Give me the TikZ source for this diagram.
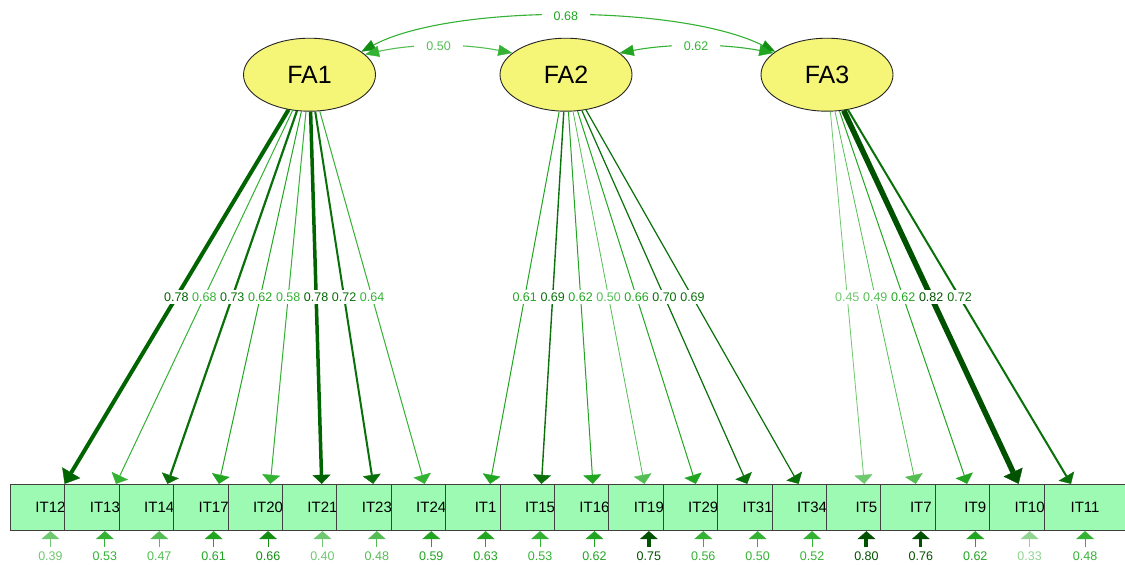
\documentclass[tikz,border=0pt]{standalone}
\usepackage{fontspec}
\setmainfont{Liberation Sans}
\usetikzlibrary{arrows.meta,shapes.geometric,calc}

% greens, from darkest to lightest
\definecolor{g0}{RGB}{0,82,0}
\definecolor{g1}{RGB}{0,100,0}
\definecolor{g2}{RGB}{10,112,10}
\definecolor{g3}{RGB}{18,142,18}
\definecolor{g4}{RGB}{34,166,34}
\definecolor{g5}{RGB}{52,178,52}
\definecolor{g6}{RGB}{84,190,84}
\definecolor{g7}{RGB}{112,200,112}
\definecolor{g8}{RGB}{146,212,146}
\definecolor{latentfill}{RGB}{245,245,120}
\definecolor{itemfill}{RGB}{156,250,178}

\tikzset{
  latent/.style={ellipse, draw=black!85, line width=0.9pt, fill=latentfill,
    minimum width=132pt, minimum height=73pt, inner sep=0pt,
    font=\fontsize{25}{28}\selectfont},
  itembox/.style={rectangle, draw=black!75, line width=0.9pt, fill=itemfill,
    minimum width=80pt, minimum height=46.4pt, inner sep=0pt, anchor=west,
    font=\fontsize{15}{17}\selectfont},
  tipthin/.style={-{Triangle[width=18pt,length=9pt,line width=0.4pt]}},
  tipthick/.style={-{Triangle[width=21pt,length=13pt,line width=0.4pt]}},
  tipres/.style={-{Triangle[width=18pt,length=8pt,line width=0.4pt]}},
  loadlab/.style={fill=white, inner xsep=0.6pt, inner ysep=2.5pt,
    font=\fontsize{12.5}{14}\selectfont},
  reslab/.style={inner xsep=1pt, inner ysep=4.5pt,
    font=\fontsize{12.5}{14}\selectfont},
  cov/.style={line width=1.1pt},
  covlab/.style={fill=white, inner xsep=12pt, inner ysep=2pt,
    font=\fontsize{12.5}{14}\selectfont},
}

% index/factor/colour/width/tip/loading
\def\loadings{0/FA1/g1/4/tipthick/0.78, 1/FA1/g5/1/tipthin/0.68,
  2/FA1/g2/2.2/tipthin/0.73, 3/FA1/g4/1/tipthin/0.62,
  4/FA1/g5/1/tipthin/0.58, 5/FA1/g1/3.5/tipthin/0.78,
  6/FA1/g2/2/tipthin/0.72, 7/FA1/g5/1/tipthin/0.64,
  8/FA2/g4/1/tipthin/0.61, 9/FA2/g2/1.4/tipthin/0.69,
  10/FA2/g4/1/tipthin/0.62, 11/FA2/g6/0.8/tipthin/0.50,
  12/FA2/g4/1/tipthin/0.66, 13/FA2/g2/1.2/tipthin/0.70,
  14/FA2/g2/1.2/tipthin/0.69, 15/FA3/g7/0.8/tipthin/0.45,
  16/FA3/g6/0.8/tipthin/0.49, 17/FA3/g4/1/tipthin/0.62,
  18/FA3/g0/5.5/tipthick/0.82, 19/FA3/g2/2/tipthin/0.72}

% index/colour/residual/width
\def\residuals{0/g7/0.39/1, 1/g5/0.53/1, 2/g6/0.47/1, 3/g4/0.61/1,
  4/g3/0.66/1, 5/g7/0.40/1, 6/g6/0.48/1, 7/g4/0.59/1, 8/g4/0.63/1,
  9/g5/0.53/1, 10/g4/0.62/1, 11/g0/0.75/3.5, 12/g5/0.56/1, 13/g5/0.50/1,
  14/g5/0.52/1, 15/g0/0.80/4, 16/g0/0.76/3, 17/g4/0.62/1, 18/g8/0.33/1,
  19/g5/0.48/1}

\begin{document}
\begin{tikzpicture}[x=1pt,y=-1pt]
  \fill[white] (0,0) rectangle (1125,565);
  \useasboundingbox (0,0) rectangle (1125,565);

  % latent factors
  \node[latent] (FA1) at (309.5,74.7) {FA1};
  \node[latent] (FA2) at (566,74.7) {FA2};
  \node[latent] (FA3) at (827,74.7) {FA3};

  % observed items, each box partly covered by the next one
  \foreach \i/\t in {0/IT12,1/IT13,2/IT14,3/IT17,4/IT20,5/IT21,6/IT23,
      7/IT24,8/IT1,9/IT15,10/IT16,11/IT19,12/IT29,13/IT31,14/IT34,
      15/IT5,16/IT7,17/IT9,18/IT10}
    \node[itembox] (b\i) at ({10+54.4*\i},507.5) {\t};
  \node[itembox, minimum width=82pt] (b19) at (1043.6,507.5) {IT11};

  % factor loadings
  \foreach \i/\f/\c/\w/\h/\v in \loadings
    \draw[\h, draw=\c, line width=\w pt] (\f) -- (b\i);
  \foreach \i/\f/\c/\w/\h/\v in \loadings
    \node[loadlab, text=\c] (l\i) at ($(\f)!0.514!(b\i)$) {\v};

  % residual variances
  \coordinate (resrow) at (0,556);
  \foreach \i/\c/\v/\w in \residuals {
    \node[reslab, text=\c] (r\i) at (b\i |- resrow) {\v};
    \draw[tipres, draw=\c, line width=\w pt] (r\i) -- (b\i);
  }

  % factor covariances
  \draw[cov, draw=g5,
    {Triangle[width=11pt,length=14pt,line width=0.4pt,color=g3]}-{Triangle[width=11pt,length=14pt,line width=0.4pt,color=g3]}]
    (FA1.24) .. controls (450,4) and (680,4) .. (FA3.156)
    node[covlab, text=g4, pos=0.5] (c13) {0.68};
  \draw[cov, draw=g6,
    {Triangle[width=11pt,length=14pt,line width=0.4pt,color=g5]}-{Triangle[width=11pt,length=14pt,line width=0.4pt,color=g5]}]
    (FA1.20) .. controls (414,43.4) and (463,43.4) .. (FA2.158)
    node[covlab, text=g6, pos=0.5] (c12) {0.50};
  \draw[cov, draw=g5,
    {Triangle[width=11pt,length=14pt,line width=0.4pt,color=g4]}-{Triangle[width=11pt,length=14pt,line width=0.4pt,color=g4]}]
    (FA2.22) .. controls (670,43.4) and (722,43.4) .. (FA3.158)
    node[covlab, text=g5, pos=0.5] (c23) {0.62};
\end{tikzpicture}
\end{document}
